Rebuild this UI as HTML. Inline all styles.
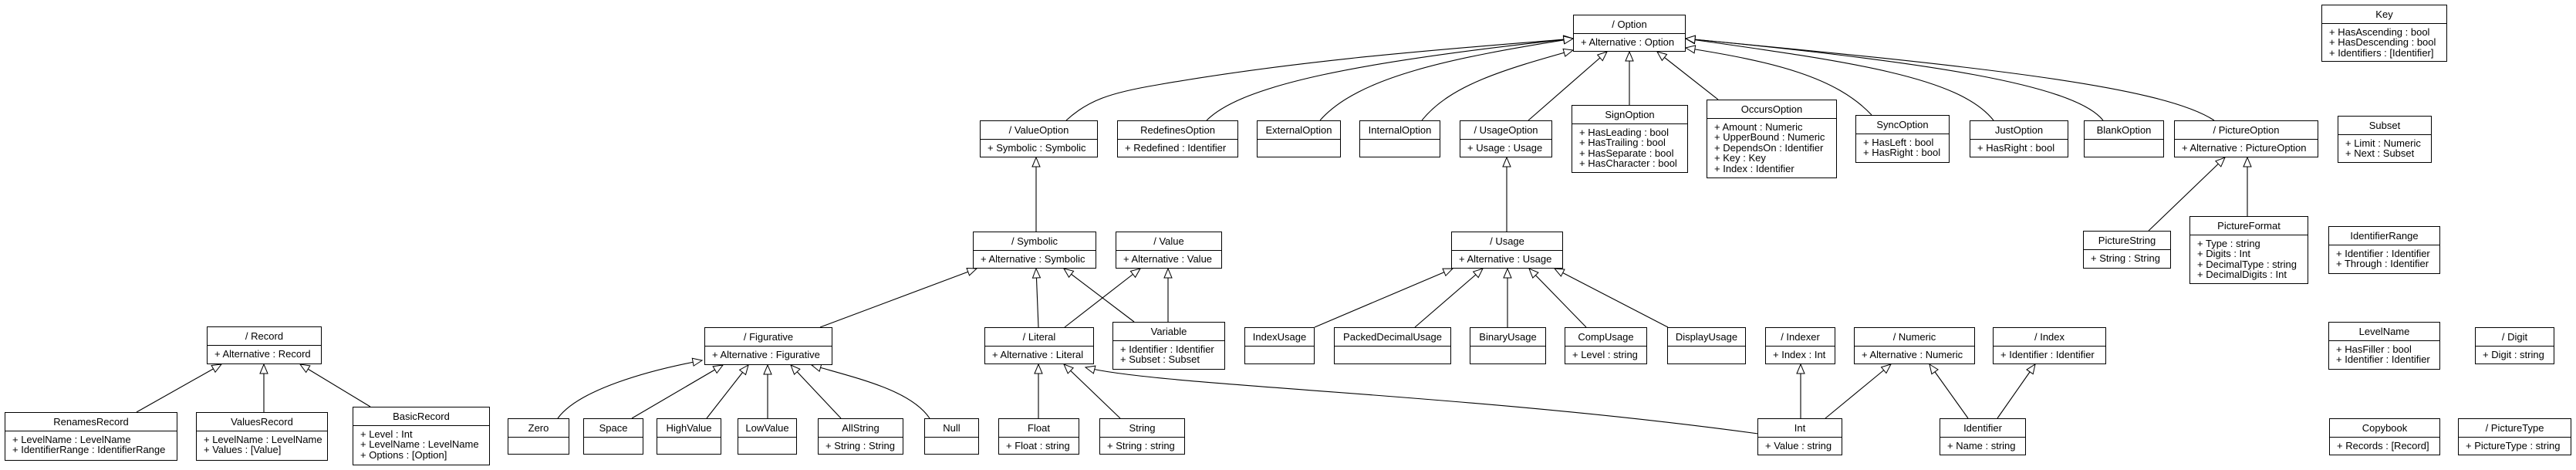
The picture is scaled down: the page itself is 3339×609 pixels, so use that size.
<!DOCTYPE html>
<html><head><meta charset="utf-8"><style>
body{margin:0;background:#fff;}
#c{position:relative;width:3339px;height:609px;overflow:hidden;background:#fff;font-family:"Liberation Sans",Arial,sans-serif;font-size:13px;color:#000;}
svg{position:absolute;left:0;top:0;}
.b{position:absolute;border:1px solid #000;background:#fff;box-sizing:border-box;}
.t{height:24px;line-height:23px;text-align:center;border-bottom:1px solid #000;box-sizing:border-box;white-space:nowrap;}
.a{padding:4px 0 0 9px;line-height:13.4px;white-space:pre;}
</style></head><body><div id="c">
<svg width="3339" height="609" viewBox="0 0 3339 609">
<defs><marker id="m" markerWidth="16" markerHeight="14" refX="13" refY="6" orient="auto" markerUnits="userSpaceOnUse"><path d="M1,1 L13,6 L1,11 Z" fill="#fff" stroke="#000" stroke-width="1"/></marker></defs>
<g fill="none" stroke="#000" stroke-width="1.1" marker-end="url(#m)">
<path d="M1382,156 C1410,130 1440,120 1500,110 C1700,75 1900,62 2039,50"/>
<path d="M1564,156 C1610,110 1760,80 2039,50"/>
<path d="M1711,156 C1760,100 1880,75 2039,50"/>
<path d="M1843,156 C1880,110 1950,90 2039,65"/>
<path d="M1981,156 L2083,67"/>
<path d="M2112,136 L2112,67"/>
<path d="M2227,129 L2148,67"/>
<path d="M2426,149 C2380,100 2300,80 2185,62"/>
<path d="M2584,156 C2540,100 2400,80 2185,50"/>
<path d="M2726,156 C2690,110 2500,80 2185,50"/>
<path d="M2870,156 C2800,110 2550,85 2185,50"/>
<path d="M1343,300 L1343,204"/>
<path d="M1953,300 L1953,204"/>
<path d="M2785,299 L2884,204"/>
<path d="M2913,280 L2913,204"/>
<path d="M1346,424 L1343,348"/>
<path d="M1470,417 L1379,348"/>
<path d="M1380,424 L1478,348"/>
<path d="M1514,417 L1514,348"/>
<path d="M1063,424 L1266,348"/>
<path d="M1704,424 L1883,348"/>
<path d="M1834,424 L1922,348"/>
<path d="M1954,424 L1954,348"/>
<path d="M2056,424 L1982,348"/>
<path d="M2162,424 L2015,348"/>
<path d="M177,534 L287,472"/>
<path d="M342,534 L342,472"/>
<path d="M480,527 L389,472"/>
<path d="M723,542 C750,505 840,480 910,467"/>
<path d="M819,542 L937,473"/>
<path d="M916,542 L970,473"/>
<path d="M995,542 L995,473"/>
<path d="M1090,542 L1025,473"/>
<path d="M1205,542 C1180,505 1110,490 1052,473"/>
<path d="M1346,542 L1346,472"/>
<path d="M1452,542 L1379,472"/>
<path d="M2279,562 C1900,510 1500,500 1407,476"/>
<path d="M2334,542 L2334,472"/>
<path d="M2366,542 L2451,472"/>
<path d="M2551,542 L2501,472"/>
<path d="M2589,542 L2638,472"/>
</g></svg>

<div class="b" style="left:2039px;top:19px;width:146px;height:48px"><div class="t">/ Option</div><div class="a">+ Alternative : Option</div></div>
<div class="b" style="left:1270px;top:156px;width:153px;height:48px"><div class="t">/ ValueOption</div><div class="a">+ Symbolic : Symbolic</div></div>
<div class="b" style="left:1448px;top:156px;width:157px;height:48px"><div class="t">RedefinesOption</div><div class="a">+ Redefined : Identifier</div></div>
<div class="b" style="left:1629px;top:156px;width:109px;height:48px"><div class="t">ExternalOption</div></div>
<div class="b" style="left:1762px;top:156px;width:105px;height:48px"><div class="t">InternalOption</div></div>
<div class="b" style="left:1892px;top:156px;width:120px;height:48px"><div class="t">/ UsageOption</div><div class="a">+ Usage : Usage</div></div>
<div class="b" style="left:2037px;top:136px;width:151px;height:88px"><div class="t">SignOption</div><div class="a">+ HasLeading : bool
+ HasTrailing : bool
+ HasSeparate : bool
+ HasCharacter : bool</div></div>
<div class="b" style="left:2212px;top:129px;width:169px;height:102px"><div class="t">OccursOption</div><div class="a">+ Amount : Numeric
+ UpperBound : Numeric
+ DependsOn : Identifier
+ Key : Key
+ Index : Identifier</div></div>
<div class="b" style="left:2405px;top:149px;width:122px;height:62px"><div class="t">SyncOption</div><div class="a">+ HasLeft : bool
+ HasRight : bool</div></div>
<div class="b" style="left:2553px;top:156px;width:128px;height:48px"><div class="t">JustOption</div><div class="a">+ HasRight : bool</div></div>
<div class="b" style="left:2701px;top:156px;width:104px;height:48px"><div class="t">BlankOption</div></div>
<div class="b" style="left:2818px;top:156px;width:187px;height:48px"><div class="t">/ PictureOption</div><div class="a">+ Alternative : PictureOption</div></div>
<div class="b" style="left:3009px;top:6px;width:163px;height:74px"><div class="t">Key</div><div class="a">+ HasAscending : bool
+ HasDescending : bool
+ Identifiers : [Identifier]</div></div>
<div class="b" style="left:3030px;top:150px;width:122px;height:61px"><div class="t">Subset</div><div class="a">+ Limit : Numeric
+ Next : Subset</div></div>
<div class="b" style="left:2700px;top:299px;width:114px;height:49px"><div class="t">PictureString</div><div class="a">+ String : String</div></div>
<div class="b" style="left:2838px;top:280px;width:154px;height:88px"><div class="t">PictureFormat</div><div class="a">+ Type : string
+ Digits : Int
+ DecimalType : string
+ DecimalDigits : Int</div></div>
<div class="b" style="left:3018px;top:293px;width:145px;height:62px"><div class="t">IdentifierRange</div><div class="a">+ Identifier : Identifier
+ Through : Identifier</div></div>
<div class="b" style="left:1261px;top:300px;width:160px;height:48px"><div class="t">/ Symbolic</div><div class="a">+ Alternative : Symbolic</div></div>
<div class="b" style="left:1446px;top:300px;width:138px;height:48px"><div class="t">/ Value</div><div class="a">+ Alternative : Value</div></div>
<div class="b" style="left:1881px;top:300px;width:145px;height:48px"><div class="t">/ Usage</div><div class="a">+ Alternative : Usage</div></div>
<div class="b" style="left:268px;top:423px;width:149px;height:49px"><div class="t">/ Record</div><div class="a">+ Alternative : Record</div></div>
<div class="b" style="left:913px;top:424px;width:166px;height:49px"><div class="t">/ Figurative</div><div class="a">+ Alternative : Figurative</div></div>
<div class="b" style="left:1276px;top:424px;width:142px;height:48px"><div class="t">/ Literal</div><div class="a">+ Alternative : Literal</div></div>
<div class="b" style="left:1442px;top:417px;width:146px;height:62px"><div class="t">Variable</div><div class="a">+ Identifier : Identifier
+ Subset : Subset</div></div>
<div class="b" style="left:1613px;top:424px;width:91px;height:48px"><div class="t">IndexUsage</div></div>
<div class="b" style="left:1729px;top:424px;width:152px;height:48px"><div class="t">PackedDecimalUsage</div></div>
<div class="b" style="left:1905px;top:424px;width:99px;height:48px"><div class="t">BinaryUsage</div></div>
<div class="b" style="left:2028px;top:424px;width:107px;height:48px"><div class="t">CompUsage</div><div class="a">+ Level : string</div></div>
<div class="b" style="left:2161px;top:424px;width:102px;height:48px"><div class="t">DisplayUsage</div></div>
<div class="b" style="left:2288px;top:424px;width:91px;height:48px"><div class="t">/ Indexer</div><div class="a">+ Index : Int</div></div>
<div class="b" style="left:2403px;top:424px;width:157px;height:48px"><div class="t">/ Numeric</div><div class="a">+ Alternative : Numeric</div></div>
<div class="b" style="left:2583px;top:424px;width:147px;height:48px"><div class="t">/ Index</div><div class="a">+ Identifier : Identifier</div></div>
<div class="b" style="left:3018px;top:417px;width:145px;height:62px"><div class="t">LevelName</div><div class="a">+ HasFiller : bool
+ Identifier : Identifier</div></div>
<div class="b" style="left:3208px;top:424px;width:103px;height:48px"><div class="t">/ Digit</div><div class="a">+ Digit : string</div></div>
<div class="b" style="left:6px;top:534px;width:224px;height:63px"><div class="t">RenamesRecord</div><div class="a">+ LevelName : LevelName
+ IdentifierRange : IdentifierRange</div></div>
<div class="b" style="left:254px;top:534px;width:171px;height:63px"><div class="t">ValuesRecord</div><div class="a">+ LevelName : LevelName
+ Values : [Value]</div></div>
<div class="b" style="left:457px;top:527px;width:178px;height:76px"><div class="t">BasicRecord</div><div class="a">+ Level : Int
+ LevelName : LevelName
+ Options : [Option]</div></div>
<div class="b" style="left:658px;top:542px;width:80px;height:47px"><div class="t">Zero</div></div>
<div class="b" style="left:756px;top:542px;width:78px;height:47px"><div class="t">Space</div></div>
<div class="b" style="left:851px;top:542px;width:84px;height:47px"><div class="t">HighValue</div></div>
<div class="b" style="left:956px;top:542px;width:77px;height:47px"><div class="t">LowValue</div></div>
<div class="b" style="left:1060px;top:542px;width:111px;height:47px"><div class="t">AllString</div><div class="a">+ String : String</div></div>
<div class="b" style="left:1198px;top:542px;width:71px;height:47px"><div class="t">Null</div></div>
<div class="b" style="left:1294px;top:542px;width:105px;height:47px"><div class="t">Float</div><div class="a">+ Float : string</div></div>
<div class="b" style="left:1425px;top:542px;width:111px;height:47px"><div class="t">String</div><div class="a">+ String : string</div></div>
<div class="b" style="left:2278px;top:542px;width:110px;height:48px"><div class="t">Int</div><div class="a">+ Value : string</div></div>
<div class="b" style="left:2514px;top:542px;width:112px;height:48px"><div class="t">Identifier</div><div class="a">+ Name : string</div></div>
<div class="b" style="left:3019px;top:542px;width:144px;height:48px"><div class="t">Copybook</div><div class="a">+ Records : [Record]</div></div>
<div class="b" style="left:3186px;top:542px;width:147px;height:48px"><div class="t">/ PictureType</div><div class="a">+ PictureType : string</div></div>
</div></body></html>
